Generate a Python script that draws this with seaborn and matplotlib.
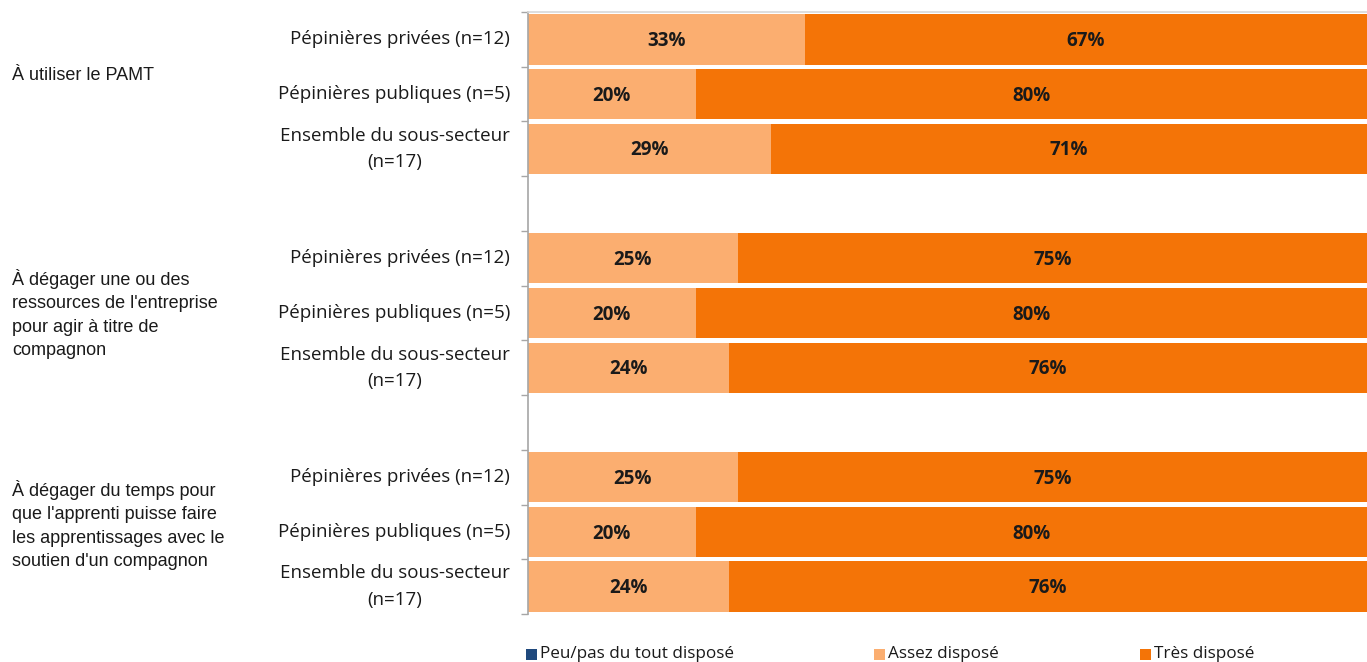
import matplotlib
matplotlib.use("Agg")
import matplotlib.pyplot as plt
import seaborn as sns
import pandas as pd

# Survey data: willingness by type of nursery
groups = [
    "À utiliser le PAMT",
    "À dégager une ou des\nressources de l'entreprise\npour agir à titre de\ncompagnon",
    "À dégager du temps pour\nque l'apprenti puisse faire\nles apprentissages avec le\nsoutien d'un compagnon",
]
segments = ["Pépinières privées (n=12)", "Pépinières publiques (n=5)", "Ensemble du sous-secteur\n(n=17)"]
legend_labels = ["Peu/pas du tout disposé", "Assez disposé", "Très disposé"]

peu = [[0, 0, 0], [0, 0, 0], [0, 0, 0]]
assez = [[33, 20, 29], [25, 20, 24], [25, 20, 24]]
tres = [[67, 80, 71], [75, 80, 76], [75, 80, 76]]

col_peu = "#1F497D"
col_assez = "#FBAE70"
col_tres = "#F47407"

# Build rows with a blank slot between groups
rows = []
slot = 0
for gi in range(len(groups)):
    for si in range(len(segments)):
        rows.append(dict(slot=f"s{slot}", group=gi, segment=segments[si],
                         peu=peu[gi][si], assez=assez[gi][si], tres=tres[gi][si]))
        slot += 1
    if gi < len(groups) - 1:
        rows.append(dict(slot=f"s{slot}", group=gi, segment="", peu=0, assez=0, tres=0))
        slot += 1
df = pd.DataFrame(rows)
df["cum_assez"] = df["peu"] + df["assez"]
df["cum_tres"] = df["cum_assez"] + df["tres"]
order = list(df["slot"])

sns.set_theme(style="white")
plt.rcParams["font.family"] = ["Open Sans", "DejaVu Sans"]

fig = plt.figure(figsize=(13.67, 6.62), dpi=100)
ax = fig.add_axes([528 / 1367, 1 - 614 / 662, 1 - 528 / 1367, (614 - 12) / 662])

bw = 0.92
sns.barplot(data=df, x="cum_tres", y="slot", order=order, orient="h",
            color=col_tres, width=bw, saturation=1, ax=ax)
sns.barplot(data=df, x="cum_assez", y="slot", order=order, orient="h",
            color=col_assez, width=bw, saturation=1, ax=ax)
sns.barplot(data=df, x="peu", y="slot", order=order, orient="h",
            color=col_peu, width=bw, saturation=1, ax=ax)

for bar in ax.patches:
    bar.set_edgecolor("none")

ax.set_xlim(0, 100)
ax.set_ylim(len(order) - 0.5, -0.5)
ax.set_xlabel("")
ax.set_ylabel("")
ax.set_xticks([])
ax.set_yticks([i - 0.5 for i in range(len(order) + 1)])
ax.set_yticklabels([])
ax.tick_params(axis="y", length=5, width=1, color="#A6A6A6", direction="out", left=True)
for s in ["right", "bottom"]:
    ax.spines[s].set_visible(False)
ax.spines["top"].set_color("#D9D9D9")
ax.spines["left"].set_color("#A6A6A6")
ax.spines["left"].set_linewidth(1.2)

# Value labels and segment labels
for i, r in df.iterrows():
    if r["segment"] == "":
        continue
    if r["assez"] > 0:
        ax.text(r["peu"] + r["assez"] / 2, i + 0.03, f"{r['assez']}%", ha="center", va="center",
                fontsize=13.5, fontweight="bold", color="#1A1A1A")
    if r["tres"] > 0:
        ax.text(r["cum_assez"] + r["tres"] / 2, i + 0.03, f"{r['tres']}%", ha="center", va="center",
                fontsize=13.5, fontweight="bold", color="#1A1A1A")
    y_disp = ax.transData.transform((0, i))[1]
    fig.text(510 / 1367, y_disp / 662, r["segment"], ha="right", va="center",
             multialignment="center", fontsize=13.5, color="#1A1A1A", linespacing=1.6)

# Group labels
group_y = [75, 314, 525]
for g, y in zip(groups, group_y):
    fig.text(12 / 1367, 1 - y / 662, g, ha="left", va="center", fontsize=13,
             family=["Liberation Sans", "DejaVu Sans"], color="#1A1A1A", linespacing=1.5)

# Legend
xs = [526, 874, 1140]
for h_lab, c, x in zip(legend_labels, (col_peu, col_assez, col_tres), xs):
    fig.patches.append(plt.Rectangle((x / 1367, 1 - 660 / 662), 11 / 1367, 11 / 662,
                                     transform=fig.transFigure, facecolor=c, edgecolor="none"))
    fig.text((x + 14) / 1367, 1 - 654 / 662, h_lab, ha="left", va="center",
             fontsize=12.3, color="#1A1A1A")

fig.savefig("out.png", dpi=100)
